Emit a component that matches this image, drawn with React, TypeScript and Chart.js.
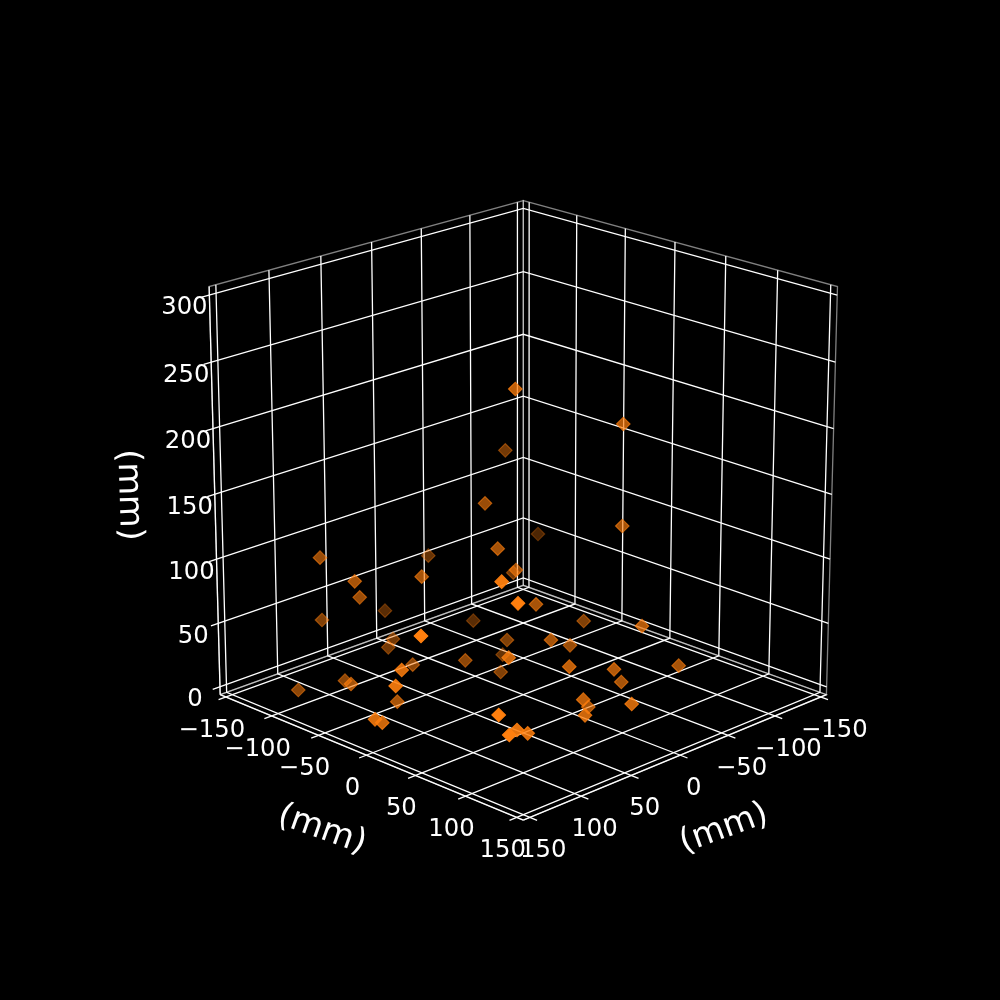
import React, { useEffect, useRef } from "react";
import { Chart, registerables } from "chart.js";

Chart.register(...registerables);

// Axis ticks (mm) of the 3D box
const horizontalTicks = [-150, -100, -50, 0, 50, 100, 150];
const heightTicks = [0, 50, 100, 150, 200, 250, 300];
const axisLabel = "(mm)";

// Marker positions, on the flat viewing plane (0-1000 on both scales)
const pointPlaneX = [
  320, 354.7, 359.7, 428.3, 421.7, 385, 322, 393, 388.3, 421, 412.7, 401.7, 345, 351, 298.3, 395.7, 397.3, 375, 382.3,
  515.3, 623.3, 505.3, 485, 622.3, 538, 497.7, 516, 513.3, 501.7, 518, 536,
  473.3, 583.7, 642, 507, 551, 570, 502.7, 508.7, 465.3, 500.7, 569.3, 614, 678.7, 621.3, 583.3, 588.3, 631.7, 585, 498.7, 517, 509.3, 527.7,
];
const pointPlaneY = [
  557.7, 581.3, 597.3, 555.7, 576.7, 610.7, 620, 639, 647.3, 636, 664.7, 670, 680.7, 684, 690, 686, 701.7, 719.3, 722.7,
  389, 424, 450.3, 503.3, 526, 534, 548.7, 570, 572.7, 581.7, 603.3, 604.3,
  620.7, 621, 626, 640, 640, 645.3, 654.7, 657.7, 660.3, 672, 666.7, 669.3, 665.7, 682, 699.7, 707, 704, 715.3, 715, 730, 735, 733.3,
];
// Depth shading (opacity) of each marker
const pointShade = [
  0.6, 0.65, 0.6, 0.4, 0.65, 0.35, 0.5, 0.45, 0.45, 1, 0.55, 0.85, 0.55, 0.65, 0.55, 0.9, 0.65, 0.85, 0.8,
  0.75, 0.7, 0.45, 0.6, 0.65, 0.3, 0.65, 0.6, 0.45, 0.95, 1, 0.65,
  0.35, 0.5, 0.7, 0.5, 0.65, 0.6, 0.4, 0.8, 0.55, 0.5, 0.75, 0.7, 0.65, 0.65, 0.75, 0.65, 0.8, 0.8, 1, 0.9, 1, 0.85,
];

// Box limits: matplotlib widens the ticks' range by 1/48 on each side
const LO = -156.25;
const HI = 156.25;
const ZLO = -6.25;
const ZHI = 306.25;

// Camera
const ELEV = (20 * Math.PI) / 180;
const DIST = 10;
const HALF = 0.5242;
const FX = 4162;
const FY = 4141;
const CX = 523.3;
const CY = 494.3;

type P = { x: number; y: number };

function project(x: number, y: number, z: number): P {
  const a = x / HI;
  const b = y / HI;
  const c = (z - 150) / HI;
  const right = (HALF * (b - a)) / Math.SQRT2;
  const toward = (HALF * (a + b)) / Math.SQRT2;
  const h = HALF * c;
  const vy = -toward * Math.sin(ELEV) + h * Math.cos(ELEV);
  const depth = DIST - (toward * Math.cos(ELEV) + h * Math.sin(ELEV));
  return { x: CX + (FX * right) / depth, y: CY - (FY * vy) / depth };
}

type Seg = { data: P[]; color: string };

function buildLines(): Seg[] {
  const lines: Seg[] = [];
  const white = "#ffffff";
  const edge = "rgba(255,255,255,0.5)";
  const pl = (pts: number[][], color: string) =>
    lines.push({ data: pts.map((p) => project(p[0], p[1], p[2])), color });

  // panes
  pl([[HI, LO, ZLO], [LO, LO, ZLO], [LO, LO, ZHI], [HI, LO, ZHI], [HI, LO, ZLO]], edge);
  pl([[LO, LO, ZLO], [LO, HI, ZLO], [LO, HI, ZHI], [LO, LO, ZHI], [LO, LO, ZLO]], edge);
  pl([[HI, LO, ZLO], [HI, HI, ZLO], [LO, HI, ZLO], [LO, LO, ZLO], [HI, LO, ZLO]], edge);

  // axis lines
  pl([[HI, LO, ZLO], [HI, HI, ZLO]], white);
  pl([[LO, HI, ZLO], [HI, HI, ZLO]], white);
  pl([[HI, LO, ZLO], [HI, LO, ZHI]], white);

  const out = 7;
  horizontalTicks.forEach((t) => {
    // tick along the left front edge, floor line, then up the right wall
    pl([[HI + out, t, ZLO], [LO, t, ZLO], [LO, t, ZHI]], white);
    // tick along the right front edge, floor line, then up the left wall
    pl([[t, HI + out, ZLO], [t, LO, ZLO], [t, LO, ZHI]], white);
  });
  heightTicks.forEach((t) => {
    pl([[HI + out, LO, t], [LO, LO, t], [LO, HI, t]], white);
  });
  return lines;
}

const fmt = (v: number) => (v < 0 ? "\u2212" + Math.abs(v) : String(v));

const textPlugin = {
  id: "boxText",
  afterDatasetsDraw(chart: any) {
    const ctx = chart.ctx as CanvasRenderingContext2D;
    const sx = (v: number) => chart.scales.x.getPixelForValue(v);
    const sy = (v: number) => chart.scales.y.getPixelForValue(v);
    ctx.save();
    ctx.fillStyle = "#ffffff";
    ctx.textAlign = "center";
    ctx.textBaseline = "middle";
    ctx.font = '24.3px "DejaVu Sans"';
    horizontalTicks.forEach((t) => {
      const l = project(HI, t, ZLO);
      ctx.fillText(fmt(t), sx(l.x) - 14, sy(l.y) + 33.5);
      const r = project(t, HI, ZLO);
      ctx.fillText(fmt(t), sx(r.x) + 13.5, sy(r.y) + 33.5);
    });
    heightTicks.forEach((t) => {
      const p = project(HI, LO, t);
      ctx.fillText(fmt(t), sx(p.x) - 25, sy(p.y) + 13);
    });
    ctx.font = '33.5px "DejaVu Sans"';
    const rotated = (px: number, py: number, deg: number) => {
      ctx.save();
      ctx.translate(sx(px), sy(py));
      ctx.rotate((deg * Math.PI) / 180);
      ctx.fillText(axisLabel, 0, 0);
      ctx.restore();
    };
    rotated(322, 830, 19.5);
    rotated(724, 829, -20);
    rotated(128.5, 495, 88.3);
    ctx.restore();
  },
};

export default function App() {
  const ref = useRef<HTMLCanvasElement | null>(null);
  useEffect(() => {
    document.body.style.margin = "0";
    document.body.style.background = "#000000";
    const order = pointPlaneX.map((_, i) => i).sort((a, b) => pointShade[a] - pointShade[b]);
    const pts = order.map((i) => ({ x: pointPlaneX[i], y: pointPlaneY[i] }));
    const colors = order.map((i) => `rgba(255,127,14,${pointShade[i]})`);
    const lineSets = buildLines().map((s) => ({
      type: "line" as const,
      data: s.data,
      borderColor: s.color,
      borderWidth: 1.3,
      pointRadius: 0,
      showLine: true,
      fill: false,
      tension: 0,
    }));
    const chart = new Chart(ref.current as HTMLCanvasElement, {
      type: "scatter",
      data: {
        datasets: [
          {
            data: pts,
            pointStyle: "rectRot",
            pointRadius: 6.8,
            pointBorderWidth: 1.1,
            pointBackgroundColor: colors,
            pointBorderColor: colors,
            showLine: false,
          } as any,
          ...lineSets,
        ],
      },
      options: {
        animation: false,
        responsive: false,
        devicePixelRatio: 1,
        layout: { padding: 0, autoPadding: false },
        plugins: { legend: { display: false }, tooltip: { enabled: false } },
        scales: {
          x: { type: "linear", min: 0, max: 1000, display: false },
          y: { type: "linear", min: 0, max: 1000, reverse: true, display: false },
        },
      },
      plugins: [textPlugin],
    });
    return () => chart.destroy();
  }, []);
  return (
    <div style={{ width: 1000, height: 1000, background: "#000000" }}>
      <canvas ref={ref} width={1000} height={1000} style={{ display: "block" }} />
    </div>
  );
}
